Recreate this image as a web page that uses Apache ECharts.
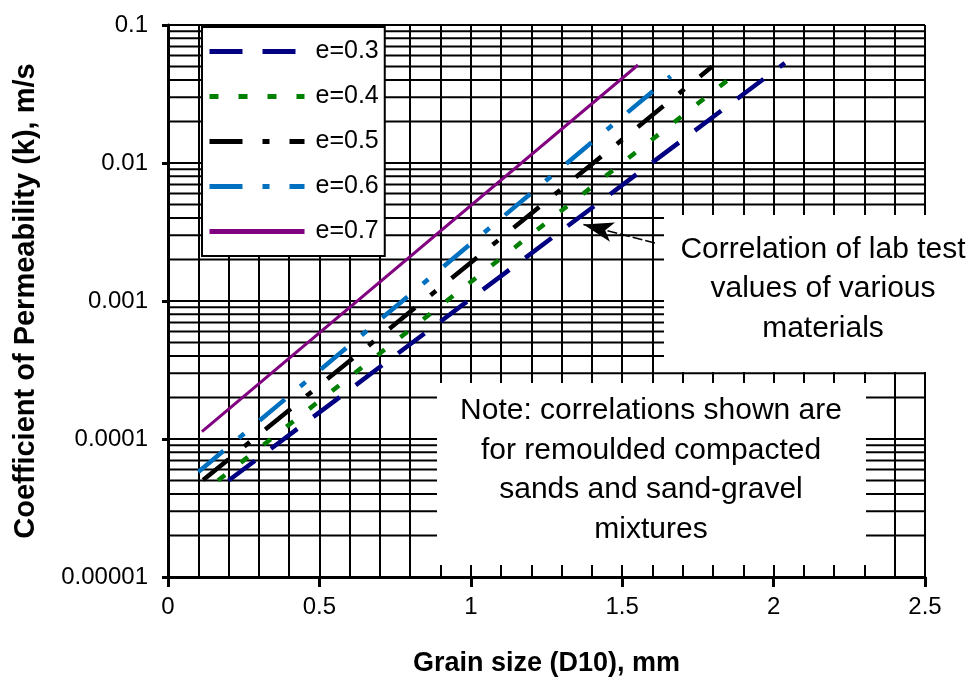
<!DOCTYPE html>
<html>
<head>
<meta charset="utf-8">
<script src="https://cdn.jsdelivr.net/npm/echarts@6/dist/echarts.min.js"></script>
<style>
html,body{margin:0;padding:0;background:#fff;}
#chart{width:973px;height:686px;}
</style>
</head>
<body>
<div id="chart"></div>
<script>
// ---- data ----
const xTickLabels = ['0', '0.5', '1', '1.5', '2', '2.5'];
const yTickLabels = ['0.00001', '0.0001', '0.001', '0.01', '0.1'];
const seriesNames = ['e=0.3', 'e=0.4', 'e=0.5', 'e=0.6', 'e=0.7'];

const grainE03 = [0.200, 2.037];
const kE03     = [0.0000500, 0.0530];
const grainE04 = [0.165, 1.890];
const kE04     = [0.0000500, 0.0470];
const grainE05 = [0.116, 1.797];
const kE05     = [0.0000505, 0.0500];
const grainE06 = [0.100, 1.660];
const kE06     = [0.0000577, 0.0425];
const grainE07 = [0.112, 1.552];
const kE07     = [0.000113, 0.0513];

const minorMantissas = [2, 3, 4, 5, 6, 7, 8, 9];
const decades = [0.00001, 0.0001, 0.001, 0.01];
const xRange = [0, 2.5];

const arrowTail = [1.608, 0.00263];
const arrowHead = [1.372, 0.00358];

const noteCorrelation = 'Correlation of lab test\nvalues of various\nmaterials';
const noteRemoulded = 'Note: correlations shown are\nfor remoulded compacted\nsands and sand-gravel\nmixtures';

// ---- build ----
const FONT = 'Liberation Sans, Arial, sans-serif';
function pairs(xs, ys) { return xs.map((x, i) => [x, ys[i]]); }
const minorGridK = [];
decades.forEach(d => minorMantissas.forEach(m => minorGridK.push(+(m * d).toPrecision(3))));

const styles = [
  { color: '#000080', type: [33, 20] },
  { color: '#008000', type: [9, 20] },
  { color: '#000000', type: [33, 20, 7, 20] },
  { color: '#0070C0', type: [33, 20, 7, 20] },
  { color: '#800080', type: 'solid' }
];
const dataSets = [pairs(grainE03, kE03), pairs(grainE04, kE04), pairs(grainE05, kE05), pairs(grainE06, kE06), pairs(grainE07, kE07)];

const series = [];
// minor horizontal grid lines of the log axis (2..9 x 10^n)
minorGridK.forEach(v => series.push({
  type: 'line', z: 0, silent: true, symbol: 'none', animation: false,
  data: [[xRange[0], v], [xRange[1], v]],
  lineStyle: { color: '#000', width: 2, type: 'solid' }
}));

dataSets.forEach((d, i) => series.push({
  name: seriesNames[i],
  type: 'line',
  data: d,
  symbol: 'none',
  z: 3,
  silent: true,
  lineStyle: { color: styles[i].color, width: i === 4 ? 3 : 4.5, type: styles[i].type, cap: 'butt' },
  itemStyle: { color: styles[i].color }
}));

series.push({
  type: 'line', data: [], z: 5, silent: true,
  markLine: {
    z: 5, silent: true, symbol: ['none', 'arrow'], symbolSize: [15, 30], label: { show: false }, animation: false,
    lineStyle: { color: '#000', width: 1.5, type: [10, 3] },
    data: [[{ coord: arrowTail }, { coord: arrowHead }]]
  }
});

const chart = echarts.init(document.getElementById('chart'), null, { renderer: 'canvas' });
chart.setOption({
  animation: false,
  backgroundColor: '#fff',
  textStyle: { fontFamily: FONT, color: '#000' },
  grid: { left: 168, right: 48, top: 25, bottom: 109, containLabel: false, outerBoundsMode: 'none' },
  legend: {
    orient: 'vertical', left: 202, top: 27,
    data: seriesNames,
    itemWidth: 95, itemHeight: 14, itemGap: 20,
    padding: [12, 6, 12, 5],
    backgroundColor: '#fff', borderColor: '#000', borderWidth: 2,
    itemStyle: { opacity: 0 },
    lineStyle: { width: 5 },
    textStyle: { fontFamily: FONT, fontSize: 25, color: '#000', padding: [0, 0, 0, 6] },
    selectedMode: false
  },
  xAxis: {
    type: 'value', min: 0, max: 2.5, interval: 0.5,
    name: 'Grain size (D10), mm', nameLocation: 'middle', nameGap: 73,
    nameTextStyle: { fontFamily: FONT, fontSize: 27, fontWeight: 'bold', color: '#000' },
    axisLine: { show: true, onZero: false, lineStyle: { color: '#000', width: 3 } },
    axisTick: { show: true, length: 10, lineStyle: { color: '#000', width: 3 } },
    axisLabel: { fontFamily: FONT, fontSize: 24, color: '#000', margin: 18,
      formatter: v => xTickLabels[Math.round(v / 0.5)] },
    splitLine: { show: true, lineStyle: { color: '#000', width: 2 } },
    minorTick: { show: false, splitNumber: 5 },
    minorSplitLine: { show: true, lineStyle: { color: '#000', width: 2 } }
  },
  yAxis: {
    type: 'log', logBase: 10, min: 0.00001, max: 0.1,
    name: 'Coefficient of Permeability (k), m/s', nameLocation: 'middle', nameGap: 128, nameRotate: 90,
    nameTextStyle: { fontFamily: FONT, fontSize: 29, fontWeight: 'bold', color: '#000' },
    axisLine: { show: true, lineStyle: { color: '#000', width: 3 } },
    axisTick: { show: true, length: 6, lineStyle: { color: '#000', width: 3 } },
    axisLabel: { fontFamily: FONT, fontSize: 24, color: '#000', margin: 20,
      formatter: v => yTickLabels[Math.round(Math.log10(v)) + 5] },
    splitLine: { show: true, lineStyle: { color: '#000', width: 2 } }
  },
  graphic: [
    { type: 'rect', z: 1, silent: true, shape: { x: 664, y: 215, width: 309, height: 157 }, style: { fill: '#fff' } },
    { type: 'rect', z: 1, silent: true, shape: { x: 437, y: 383, width: 429, height: 182 }, style: { fill: '#fff' } },
    { type: 'text', z: 2, silent: true, x: 823, y: 289,
      style: { text: noteCorrelation, fontFamily: FONT, fontSize: 30, lineHeight: 39.5, fill: '#000', align: 'center', verticalAlign: 'middle' } },
    { type: 'text', z: 2, silent: true, x: 651, y: 470,
      style: { text: noteRemoulded, fontFamily: FONT, fontSize: 30, lineHeight: 39.5, fill: '#000', align: 'center', verticalAlign: 'middle' } }
  ],
  series: series
});
</script>
</body>
</html>
